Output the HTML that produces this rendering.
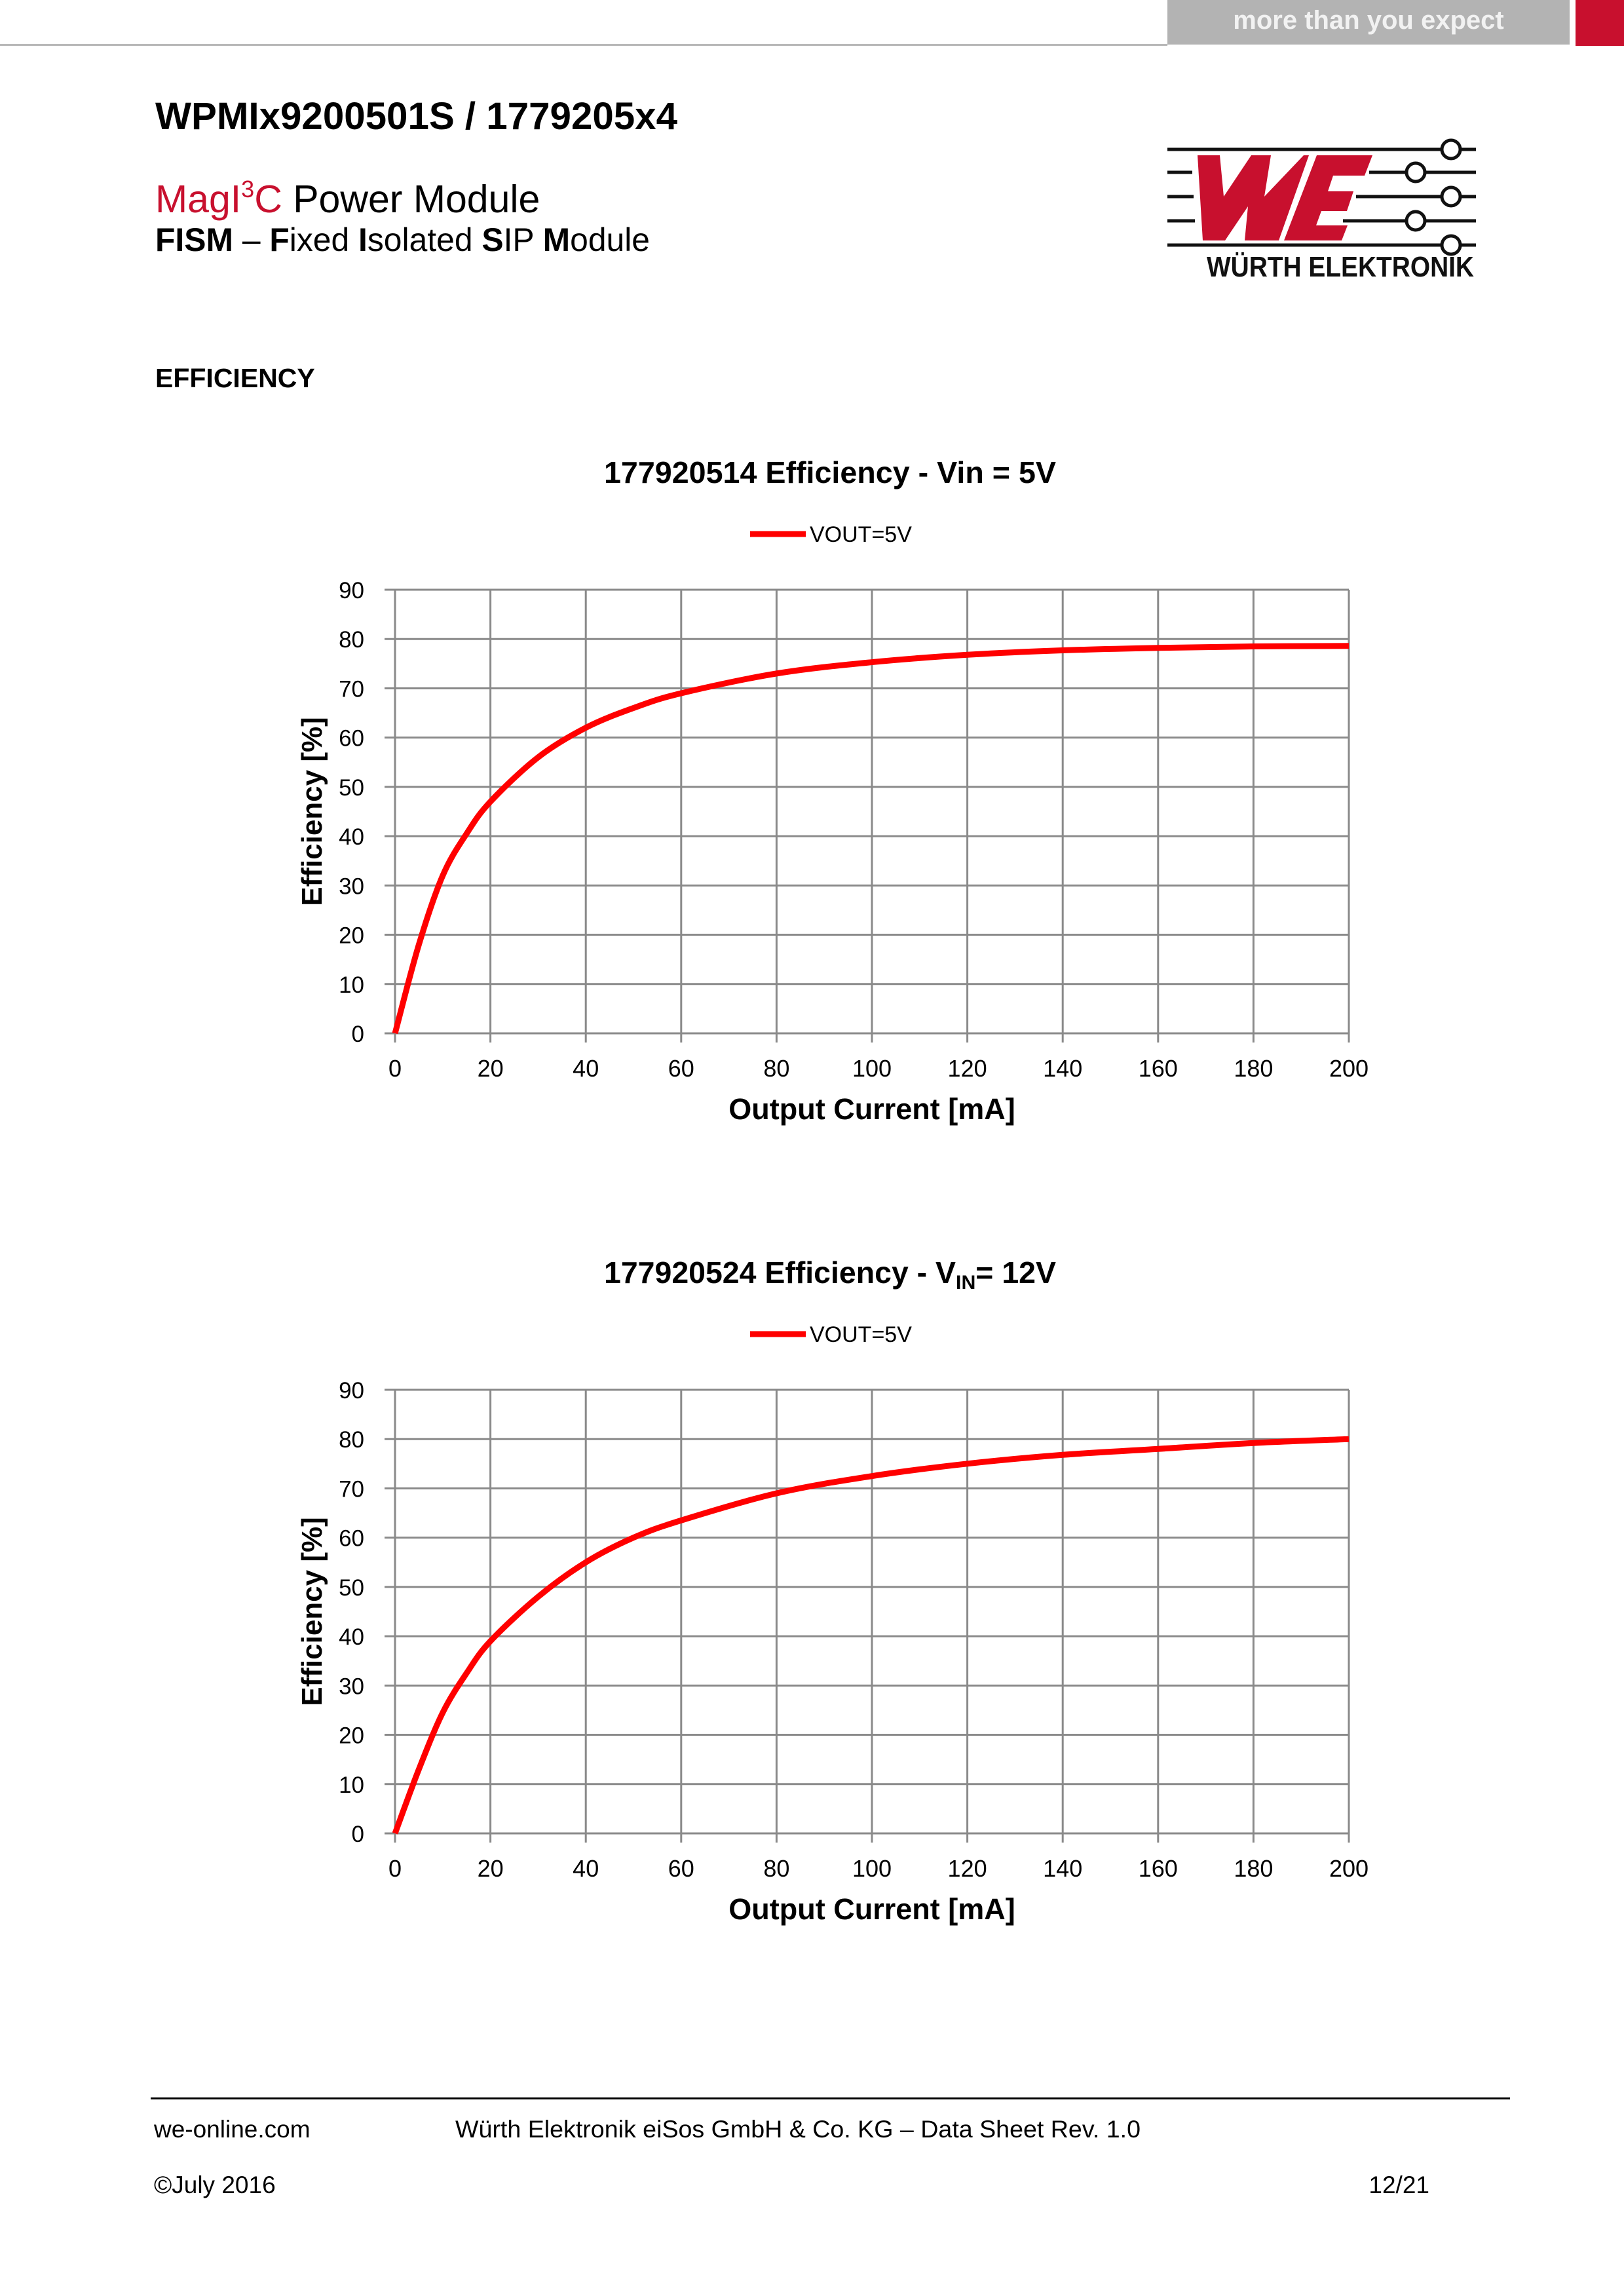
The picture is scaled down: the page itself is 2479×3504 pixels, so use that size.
<!DOCTYPE html>
<html><head><meta charset="utf-8"><style>
html,body{margin:0;padding:0;background:#fff;}
svg{display:block;}
text{font-family:"Liberation Sans",sans-serif;}
</style></head><body>
<svg id="s" width="2479" height="3504" viewBox="0 0 2479 3504" xmlns="http://www.w3.org/2000/svg">
<rect x="0" y="0" width="2479" height="3504" fill="#fff"/>
<rect x="0" y="67" width="1782" height="3" fill="#b8b8b8"/>
<rect x="1782" y="0" width="614" height="68" fill="#b3b3b3"/>
<text x="2089" y="44" font-size="40" font-weight="bold" fill="#f2f2f2" text-anchor="middle">more than you expect</text>
<rect x="2405" y="0" width="74" height="70" fill="#c8102e"/>
<text x="237" y="197" font-size="58" font-weight="bold" fill="#000" textLength="797" lengthAdjust="spacingAndGlyphs">WPMIx9200501S / 1779205x4</text>
<text x="237" y="324" font-size="59" fill="#000"><tspan fill="#c8102e">MagI</tspan><tspan fill="#c8102e" font-size="36" dy="-23">3</tspan><tspan fill="#c8102e" dy="23">C</tspan> Power Module</text>
<text x="237" y="383" font-size="50" fill="#000" textLength="755" lengthAdjust="spacingAndGlyphs"><tspan font-weight="bold">FISM</tspan> – <tspan font-weight="bold">F</tspan>ixed <tspan font-weight="bold">I</tspan>solated <tspan font-weight="bold">S</tspan>IP <tspan font-weight="bold">M</tspan>odule</text>
<text x="237" y="591" font-size="41" font-weight="bold" fill="#000">EFFICIENCY</text>
<g stroke="#111" stroke-width="5" fill="none">
<line x1="1782" y1="228" x2="2253" y2="228"/>
<line x1="1782" y1="263" x2="1820" y2="263"/><line x1="2090" y1="263" x2="2253" y2="263"/>
<line x1="1782" y1="300" x2="1822" y2="300"/><line x1="2070" y1="300" x2="2253" y2="300"/>
<line x1="1782" y1="337" x2="1824" y2="337"/><line x1="2050" y1="337" x2="2253" y2="337"/>
<line x1="1782" y1="374" x2="2253" y2="374"/>
</g>
<g stroke="#111" stroke-width="5" fill="#fff">
<circle cx="2215" cy="228" r="14"/><circle cx="2161" cy="263" r="14"/><circle cx="2215" cy="300" r="14"/><circle cx="2161" cy="337" r="14"/><circle cx="2215" cy="374" r="14"/>
</g>
<polygon points="1828,237 1862,237 1868,300 1910,237 1940,237 1930,300 1990,237 1998,237 1952,367 1900,367 1905,315 1870,367 1836,367" fill="#c8102e"/>
<polygon points="1960,367 2010,237 2095,237 2083,268 2035,268 2027,292 2066,292 2056,322 2017,322 2009,344 2057,344 2048,367" fill="#c8102e"/>
<text x="2046" y="422" font-size="44" font-weight="bold" fill="#111" text-anchor="middle" textLength="408" lengthAdjust="spacingAndGlyphs">WÜRTH ELEKTRONIK</text>
<g id="c1"></g><g id="c2"></g>
<rect x="230" y="3201" width="2075" height="3" fill="#000"/>
<text x="235" y="3262" font-size="37" fill="#000">we-online.com</text>
<text x="695" y="3262" font-size="37" fill="#000" textLength="1046" lengthAdjust="spacingAndGlyphs">Würth Elektronik eiSos GmbH &amp; Co. KG – Data Sheet Rev. 1.0</text>
<text x="235" y="3347" font-size="37" fill="#000">©July 2016</text>
<text x="2182" y="3347" font-size="37" fill="#000" text-anchor="end">12/21</text>
</svg>
<script>
function chart(g,top,titleHtml,tl,pts){
  var L=603,R=2059,B=top+677,h="";
  var ty=top-163;
  h+='<text x="1267" y="'+ty+'" font-size="46" font-weight="bold" text-anchor="middle" textLength="'+tl+'" lengthAdjust="spacingAndGlyphs">'+titleHtml+'</text>';
  h+='<line x1="1145" y1="'+(top-85)+'" x2="1230" y2="'+(top-85)+'" stroke="#f00" stroke-width="9"/>';
  h+='<text x="1236" y="'+(top-73)+'" font-size="34">VOUT=5V</text>';
  for(var i=0;i<=9;i++){var y=B-i*677/9;
    h+='<line x1="'+(L-16)+'" y1="'+y+'" x2="'+R+'" y2="'+y+'" stroke="#8a8a8a" stroke-width="3"/>';
    h+='<text x="556" y="'+(y+13)+'" font-size="35" text-anchor="end">'+(i*10)+'</text>';}
  for(var i=0;i<=10;i++){var x=L+i*145.6;
    h+='<line x1="'+x+'" y1="'+top+'" x2="'+x+'" y2="'+(B+14)+'" stroke="#8a8a8a" stroke-width="3"/>';
    h+='<text x="'+x+'" y="'+(B+66)+'" font-size="36" text-anchor="middle">'+(i*20)+'</text>';}
  h+='<text x="1331" y="'+(B+131)+'" font-size="45" font-weight="bold" text-anchor="middle">Output Current [mA]</text>';
  var cy=(top+B)/2;
  h+='<text x="0" y="0" font-size="44" font-weight="bold" text-anchor="middle" transform="translate(491,'+cy+') rotate(-90)">Efficiency [%]</text>';
  var P=pts.map(function(p){return [L+p[0]*7.28,B-p[1]*677/90];});
  var d="M"+P[0][0]+","+P[0][1];
  for(var i=0;i<P.length-1;i++){var p0=P[Math.max(i-1,0)],p1=P[i],p2=P[i+1],p3=P[Math.min(i+2,P.length-1)];
    d+=" C"+(p1[0]+(p2[0]-p0[0])/6)+","+(p1[1]+(p2[1]-p0[1])/6)+" "+(p2[0]-(p3[0]-p1[0])/6)+","+(p2[1]-(p3[1]-p1[1])/6)+" "+p2[0]+","+p2[1];}
  h+='<path d="'+d+'" fill="none" stroke="#f00" stroke-width="9" stroke-linejoin="round"/>';
  document.getElementById(g).innerHTML=h;
}
chart("c1",900,"177920514  Efficiency - Vin = 5V",690,
 [[0,0],[5,18],[10,32],[15,40.5],[20,47],[30,56],[40,62],[50,66],[60,69],[80,73],[100,75.3],[120,76.8],[140,77.7],[160,78.2],[180,78.5],[200,78.6]]);
chart("c2",2121,'177920524  Efficiency - V<tspan font-size="30" dy="9">IN</tspan><tspan dy="-9">= 12V</tspan>',690,
 [[0,0],[5,13],[10,24.5],[15,32.5],[20,39],[30,48],[40,55],[50,60],[60,63.5],[80,69],[100,72.5],[120,75],[140,76.8],[160,78],[180,79.2],[200,80]]);
</script>
</body></html>
